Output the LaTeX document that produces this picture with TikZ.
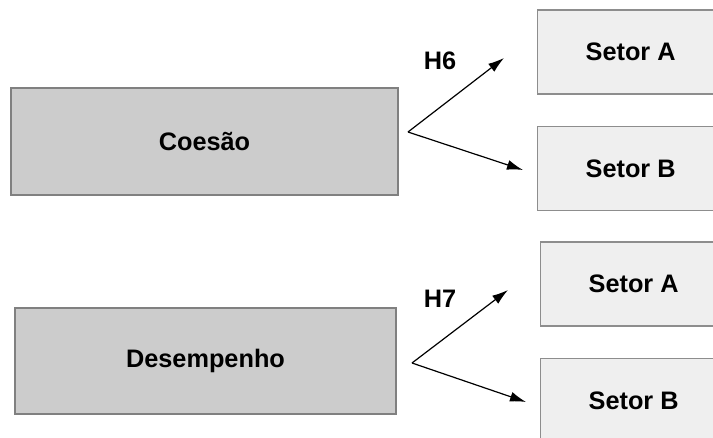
\documentclass[tikz,border=0pt]{standalone}
\usepackage{fontspec}
\setmainfont{Liberation Sans}
\usetikzlibrary{arrows.meta}
\definecolor{bigfill}{HTML}{CCCCCC}
\definecolor{smallfill}{HTML}{EFEFEF}
\definecolor{edgegray}{HTML}{808080}
\begin{document}
\begin{tikzpicture}[x=1pt,y=-1pt,
  txt/.style={font=\fontsize{25.3}{30}\selectfont\bfseries},
  bigbox/.style={draw=edgegray, line width=1.3pt, fill=bigfill, txt, inner sep=0pt},
  setorbox/.style={draw=edgegray!90, line width=1.3pt, fill=smallfill, txt, inner sep=0pt, minimum height=84pt},
  arr/.style={-{Latex[length=16pt,width=10pt]}, line width=1.2pt, black},
  hlabel/.style={txt, inner sep=0pt}]
\useasboundingbox (0,0) rectangle (713,438);
\clip (0,0) rectangle (713,438);
% left boxes
\node[bigbox, minimum width=387pt, minimum height=107pt] (coesao) at (204.5,141.5) {Coesão};
\node[bigbox, minimum width=381pt, minimum height=106pt] (desemp) at (205.5,361) {Desempenho};
% right boxes (they run past the right edge)
\node[setorbox, minimum width=220pt, anchor=west] (a1) at (537,52) {\hspace*{-34pt}Setor A};
\node[setorbox, minimum width=220pt, anchor=west] (b1) at (537,168.5) {\hspace*{-34pt}Setor B};
\node[setorbox, minimum width=220pt, anchor=west] (a2) at (540,284) {\hspace*{-34pt}Setor A};
\node[setorbox, minimum width=220pt, anchor=west] (b2) at (540,400.5) {\hspace*{-34pt}Setor B};
% labels
\node[hlabel] (h6) at (440,61) {H6};
\node[hlabel] (h7) at (440,299) {H7};
% arrows
\coordinate (o1) at (408,132);
\coordinate (t1a) at (504,58);
\coordinate (t1b) at (523,170);
\coordinate (o2) at (412,363);
\coordinate (t2a) at (508,290);
\coordinate (t2b) at (526,402);
\draw[arr] (o1) -- (t1a);
\draw[arr] (o1) -- (t1b);
\draw[arr] (o2) -- (t2a);
\draw[arr] (o2) -- (t2b);
\end{tikzpicture}
\end{document}
